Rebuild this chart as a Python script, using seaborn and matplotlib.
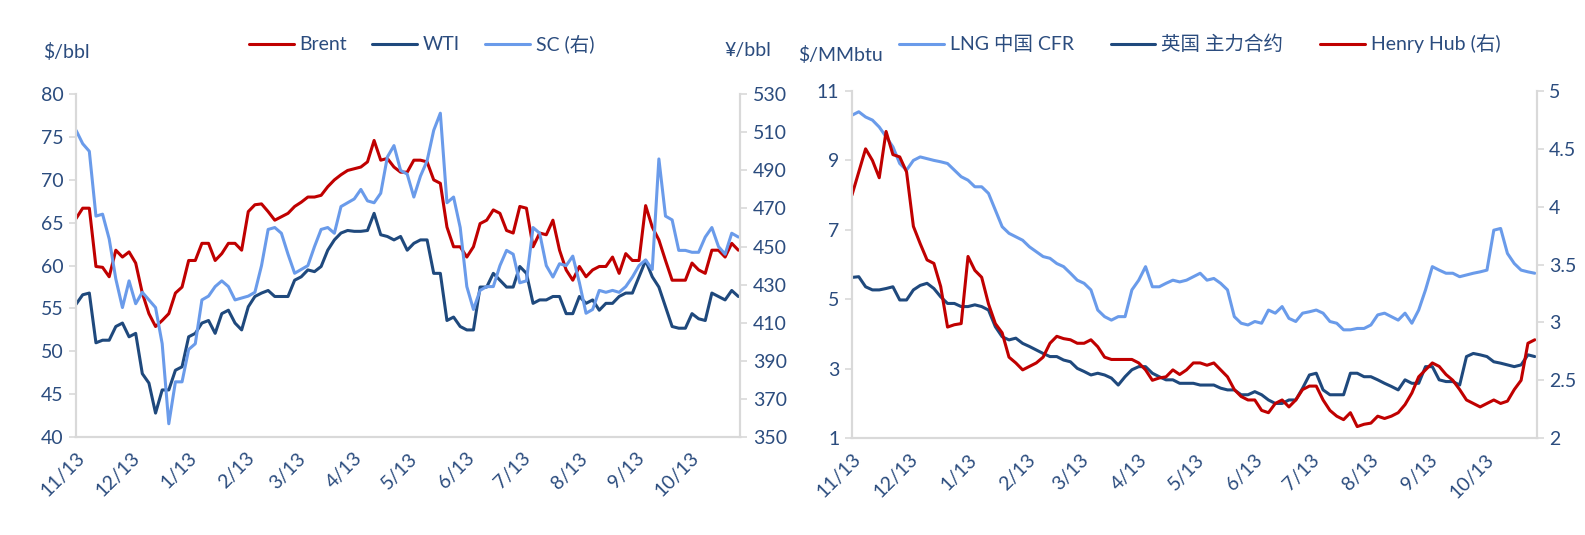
import pandas as pd
import numpy as np
import matplotlib
matplotlib.use('Agg')
import matplotlib.pyplot as plt
import matplotlib.dates as mdates
import seaborn as sns

# readings about every 3.6 days, 2018-11-13 .. 2019-11-08
dates = pd.date_range('2018-11-13', '2019-11-08', periods=101)

brent = [65.5, 66.7, 66.7, 59.9, 59.8, 58.7, 61.8, 61.0, 61.6, 60.3, 56.8, 54.4, 52.9, 53.6,
         54.4, 56.8, 57.5, 60.6, 60.6, 62.6, 62.6, 60.6, 61.4, 62.6, 62.6, 61.8, 66.3, 67.1,
         67.2, 66.3, 65.3, 65.7, 66.1, 66.9, 67.4, 68.0, 68.0, 68.2, 69.2, 70.0, 70.6, 71.1,
         71.3, 71.5, 72.1, 74.6, 72.3, 72.5, 71.5, 70.9, 70.9, 72.3, 72.3, 72.1, 70.0, 69.6,
         64.5, 62.2, 62.2, 61.0, 62.2, 64.9, 65.3, 66.5, 66.1, 64.1, 63.8, 66.9, 66.7, 62.2,
         63.8, 63.6, 65.3, 61.8, 59.5, 58.3, 59.9, 58.7, 59.5, 59.9, 59.9, 61.0, 59.1, 61.4,
         60.6, 60.6, 67.0, 64.5, 63.0, 60.6, 58.3, 58.3, 58.3, 60.3, 59.5, 59.1, 61.8, 61.8,
         61.0, 62.6, 61.8]
wti = [55.5, 56.6, 56.8, 51.0, 51.3, 51.3, 52.9, 53.3, 51.7, 52.1, 47.4, 46.3, 42.8, 45.5,
       45.5, 47.8, 48.2, 51.7, 52.1, 53.3, 53.6, 52.1, 54.4, 54.8, 53.3, 52.5, 55.2, 56.4,
       56.8, 57.1, 56.4, 56.4, 56.4, 58.3, 58.7, 59.5, 59.3, 59.9, 61.8, 63.0, 63.8, 64.1,
       64.0, 64.0, 64.1, 66.1, 63.6, 63.4, 63.0, 63.4, 61.8, 62.6, 63.0, 63.0, 59.1, 59.1,
       53.6, 54.0, 52.9, 52.5, 52.5, 57.5, 57.5, 59.1, 58.3, 57.5, 57.5, 59.9, 59.1, 55.6,
       56.0, 56.0, 56.4, 56.4, 54.4, 54.4, 56.4, 55.6, 56.0, 54.8, 55.6, 55.6, 56.4, 56.8,
       56.8, 58.7, 60.6, 58.7, 57.5, 55.2, 52.9, 52.7, 52.7, 54.4, 53.8, 53.6, 56.8, 56.4,
       56.0, 57.1, 56.4]
sc = [511, 504, 500, 466, 467, 454, 433, 418, 432, 420, 426, 422, 418, 399,
      357, 379, 379, 396, 399, 422, 424, 429, 432, 429, 422, 423, 424, 426,
      440, 459, 460, 457, 446, 436, 438, 440, 450, 459, 460, 457, 471, 473,
      475, 480, 474, 473, 478, 497, 503, 490, 488, 476, 487, 495, 511, 520,
      473, 476, 460, 429, 417, 427, 429, 429, 440, 448, 446, 431, 432, 460,
      457, 440, 434, 441, 440, 445, 431, 415, 417, 427, 426, 427, 426, 429,
      434, 440, 443, 438, 496, 466, 464, 448, 448, 447, 447, 455, 460, 450,
      446, 457, 455]

lng = [10.3, 10.4, 10.25, 10.16, 9.96, 9.68, 9.39, 8.91, 8.72, 9.0, 9.1, 9.05, 9.0, 8.96,
       8.91, 8.72, 8.53, 8.43, 8.24, 8.24, 8.05, 7.57, 7.09, 6.9, 6.8, 6.7, 6.51, 6.37,
       6.23, 6.18, 6.03, 5.94, 5.75, 5.55, 5.46, 5.27, 4.69, 4.5, 4.4, 4.5, 4.5, 5.27,
       5.55, 5.94, 5.36, 5.36, 5.46, 5.55, 5.5, 5.55, 5.65, 5.75, 5.55, 5.6, 5.46, 5.27,
       4.5, 4.31, 4.26, 4.36, 4.31, 4.69, 4.6, 4.79, 4.45, 4.36, 4.6, 4.64, 4.69, 4.6,
       4.36, 4.31, 4.12, 4.12, 4.16, 4.16, 4.26, 4.55, 4.6, 4.5, 4.4, 4.6, 4.31, 4.69,
       5.27, 5.94, 5.84, 5.75, 5.75, 5.65, 5.7, 5.75, 5.79, 5.84, 6.99, 7.04, 6.32, 6.03,
       5.84, 5.79, 5.75]
uk = [5.63, 5.65, 5.36, 5.27, 5.27, 5.31, 5.36, 4.98, 4.98, 5.27, 5.4, 5.46, 5.31, 5.07,
      4.88, 4.88, 4.79, 4.79, 4.84, 4.79, 4.69, 4.21, 3.92, 3.83, 3.88, 3.73, 3.64, 3.54,
      3.44, 3.35, 3.35, 3.25, 3.2, 3.01, 2.92, 2.82, 2.87, 2.82, 2.73, 2.53, 2.77, 2.97,
      3.06, 3.06, 2.87, 2.77, 2.68, 2.68, 2.58, 2.58, 2.58, 2.53, 2.53, 2.53, 2.44, 2.39,
      2.39, 2.25, 2.25, 2.34, 2.25, 2.1, 2.0, 2.0, 2.1, 2.1, 2.44, 2.82, 2.87, 2.39,
      2.25, 2.25, 2.25, 2.87, 2.87, 2.77, 2.77, 2.68, 2.58, 2.49, 2.39, 2.68, 2.58, 2.58,
      3.06, 3.06, 2.68, 2.63, 2.63, 2.53, 3.35, 3.44, 3.4, 3.35, 3.2, 3.16, 3.11, 3.06,
      3.11, 3.4, 3.35]
hh = [4.1, 4.3, 4.5, 4.4, 4.25, 4.65, 4.45, 4.43, 4.3, 3.83, 3.68, 3.54, 3.51, 3.31,
      2.96, 2.98, 2.99, 3.57, 3.45, 3.39, 3.16, 2.99, 2.91, 2.7, 2.65, 2.59, 2.62, 2.65,
      2.70, 2.82, 2.88, 2.86, 2.85, 2.82, 2.82, 2.85, 2.79, 2.7, 2.68, 2.68, 2.68, 2.68,
      2.65, 2.59, 2.5, 2.52, 2.53, 2.59, 2.55, 2.59, 2.65, 2.65, 2.63, 2.65, 2.59, 2.53,
      2.42, 2.36, 2.33, 2.33, 2.24, 2.22, 2.30, 2.33, 2.27, 2.33, 2.42, 2.45, 2.45, 2.33,
      2.24, 2.19, 2.16, 2.22, 2.1, 2.12, 2.13, 2.19, 2.17, 2.19, 2.22, 2.29, 2.39, 2.53,
      2.59, 2.65, 2.62, 2.55, 2.5, 2.42, 2.33, 2.3, 2.27, 2.3, 2.33, 2.3, 2.32, 2.42,
      2.5, 2.82, 2.85]

month_ticks = pd.date_range('2018-11-01', '2019-10-01', freq='MS') + pd.Timedelta(days=12)

RED = '#C00000'
DARK = '#1F497D'
LIGHT = '#6A9BEA'
TXT = '#2B4C7E'
GRID = '#D9D9D9'

sns.set_theme(style='white')
plt.rcParams['font.family'] = ['Lato', 'Noto Sans CJK SC', 'DejaVu Sans']
plt.rcParams['axes.unicode_minus'] = False

df = pd.DataFrame({'date': dates, 'Brent': brent, 'WTI': wti, 'SC': sc,
                   'LNG': lng, 'UK': uk, 'HH': hh})

fig = plt.figure(figsize=(15.85, 5.35), dpi=100)
ax1 = fig.add_axes([0.048, 0.183, 0.419, 0.641])
ax2 = ax1.twinx()
ax3 = fig.add_axes([0.5375, 0.181, 0.432, 0.649])
ax4 = ax3.twinx()

lw = 2.2
sns.lineplot(data=df, x='date', y='Brent', ax=ax1, color=RED, lw=lw, label='Brent', legend=False)
sns.lineplot(data=df, x='date', y='WTI', ax=ax1, color=DARK, lw=lw, label='WTI', legend=False)
sns.lineplot(data=df, x='date', y='SC', ax=ax2, color=LIGHT, lw=lw, label='SC (右)', legend=False)

sns.lineplot(data=df, x='date', y='LNG', ax=ax3, color=LIGHT, lw=lw, label='LNG 中国 CFR', legend=False)
sns.lineplot(data=df, x='date', y='UK', ax=ax3, color=DARK, lw=lw, label='英国 主力合约', legend=False)
sns.lineplot(data=df, x='date', y='HH', ax=ax4, color=RED, lw=lw, label='Henry Hub (右)', legend=False)

ax1.set_ylim(40, 80)
ax1.set_yticks(np.arange(40, 81, 5))
ax2.set_ylim(350, 530)
ax2.set_yticks(np.arange(350, 531, 20))
ax3.set_ylim(1, 11)
ax3.set_yticks(np.arange(1, 12, 2))
ax4.set_ylim(2, 5)
ax4.set_yticks([2, 2.5, 3, 3.5, 4, 4.5, 5])
ax4.set_yticklabels(['2', '2.5', '3', '3.5', '4', '4.5', '5'])

for a in (ax1, ax2, ax3, ax4):
    a.set_xlim(pd.Timestamp('2018-11-13'), pd.Timestamp('2019-11-09'))
    a.set_xlabel('')
    a.set_ylabel('')
    a.grid(False)
    for s in a.spines.values():
        s.set_color(GRID)
        s.set_linewidth(1.5)
    a.spines['top'].set_visible(False)
    a.tick_params(axis='both', colors=GRID, labelcolor=TXT, labelsize=14,
                  length=5, width=1.2, direction='out', pad=4)

for a in (ax1, ax3):
    a.set_xticks(month_ticks)
    a.xaxis.set_major_formatter(mdates.DateFormatter('%-m/%d'))
    for lab in a.get_xticklabels():
        lab.set_rotation(45)
        lab.set_ha('right')
        lab.set_rotation_mode('anchor')
        lab.set_fontsize(14)

h1, l1 = ax1.get_legend_handles_labels()
h2, l2 = ax2.get_legend_handles_labels()
fig.legend(h1 + h2, l1 + l2, loc='center', bbox_to_anchor=(0.266, 0.918), ncol=3,
           frameon=False, fontsize=14, handlelength=2.3, columnspacing=1.3,
           handletextpad=0.3, labelcolor=TXT)
h3, l3 = ax3.get_legend_handles_labels()
h4, l4 = ax4.get_legend_handles_labels()
fig.legend(h3 + h4, l3 + l4, loc='center', bbox_to_anchor=(0.757, 0.918), ncol=3,
           frameon=False, fontsize=14, handlelength=2.3, columnspacing=1.9,
           handletextpad=0.3, labelcolor=TXT)

fig.text(0.042, 0.903, '$/bbl', ha='center', va='center', fontsize=14, color=TXT)
fig.text(0.472, 0.906, '¥/bbl', ha='center', va='center', fontsize=14, color=TXT)
fig.text(0.530, 0.897, '$/MMbtu', ha='center', va='center', fontsize=14, color=TXT)

fig.savefig('out.png', dpi=100, facecolor='white')
